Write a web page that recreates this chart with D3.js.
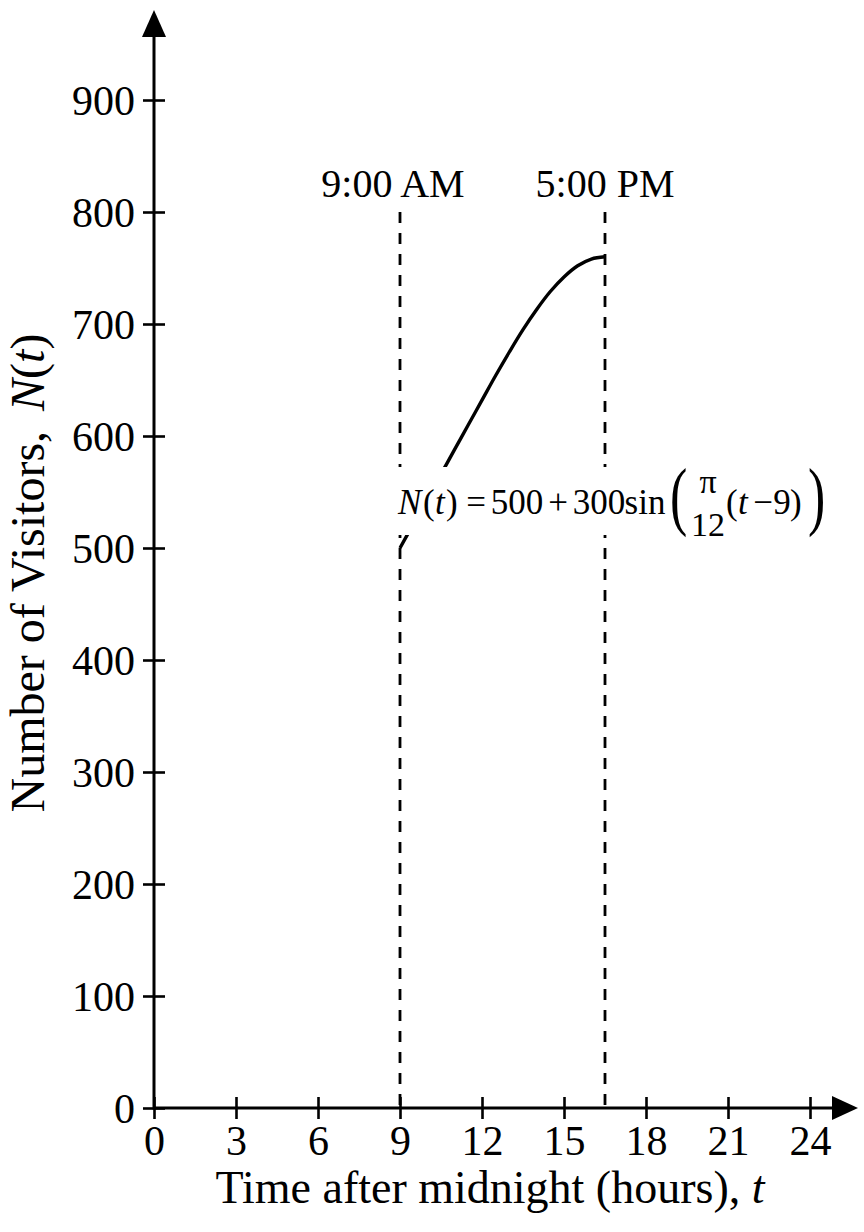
<!DOCTYPE html>
<html>
<head>
<meta charset="utf-8">
<script src="https://cdn.jsdelivr.net/npm/d3@7/dist/d3.min.js"></script>
<style>
  html, body { margin: 0; padding: 0; background: #fff; }
  svg { display: block; }
  text { font-family: "Liberation Serif", "Times New Roman", serif; fill: #000; }
</style>
</head>
<body>
<svg id="chart" width="864" height="1232"></svg>
<script>
// ---- data ----
const xTicks = [0, 3, 6, 9, 12, 15, 18, 21, 24];
const yTicks = [0, 100, 200, 300, 400, 500, 600, 700, 800, 900];
const curveT = [9, 9.5, 10, 10.5, 11, 11.5, 12, 12.5, 13, 13.5, 14, 14.5, 15, 15.5, 16, 16.5];
const curveN = [500, 522, 544, 566, 588, 610, 632, 654, 675, 695, 713, 729, 742, 752, 758, 760];
const markerT = [9, 16.5];
const markerLabels = ["9:00 AM", "5:00 PM"];
const markerTop = 800;

const svg = d3.select("#chart");
const x = d3.scaleLinear().domain([0, 24]).range([154, 810]);
const y = d3.scaleLinear().domain([0, 900]).range([1108, 100]);
const FONT = 42;

// dashed marker lines
svg.selectAll("line.marker").data(markerT).enter().append("line")
  .attr("class", "marker")
  .attr("x1", d => x(d)).attr("x2", d => x(d))
  .attr("y1", y(markerTop)).attr("y2", y(0))
  .attr("stroke", "#000").attr("stroke-width", 2.8)
  .attr("stroke-dasharray", "11,10");

svg.selectAll("text.mlabel").data(markerLabels).enter().append("text")
  .attr("class", "mlabel")
  .attr("x", (d, i) => x(markerT[i]) + (i === 0 ? -7 : 0))
  .attr("y", 197)
  .attr("text-anchor", "middle")
  .attr("font-size", 40)
  .text(d => d);

// curve
const pts = curveT.map((t, i) => [t, curveN[i]]);
svg.append("path")
  .attr("d", d3.line().x(d => x(d[0])).y(d => y(d[1])).curve(d3.curveCatmullRom.alpha(0.5))(pts))
  .attr("fill", "none").attr("stroke", "#000").attr("stroke-width", 3.4);

// axes
const xAxis = d3.axisBottom(x).tickValues(xTicks).tickSizeInner(11).tickSizeOuter(0).tickPadding(10);
const gx = svg.append("g").attr("transform", `translate(0,${y(0)})`).call(xAxis);
const yAxis = d3.axisLeft(y).tickValues(yTicks).tickSizeInner(11).tickSizeOuter(0).tickPadding(8);
const gy = svg.append("g").attr("transform", `translate(${x(0)},0)`).call(yAxis);

[gx, gy].forEach(g => {
  g.select(".domain").remove();
  g.selectAll(".tick line").attr("stroke", "#000").attr("stroke-width", 2.6);
  g.selectAll(".tick text").attr("font-size", FONT)
    .attr("font-family", "'Liberation Serif', 'Times New Roman', serif").attr("fill", "#000");
});
// ticks cross the axes
gx.selectAll(".tick line").attr("y1", -11).attr("y2", 11);
gy.selectAll(".tick line").attr("x1", -11).attr("x2", 11);
gx.selectAll(".tick text").attr("y", 47).attr("dy", 0);
gy.selectAll(".tick text").attr("x", -19).attr("dy", "0.34em");

// axis lines with arrowheads
svg.append("line").attr("x1", x(0)).attr("x2", 836).attr("y1", y(0)).attr("y2", y(0))
  .attr("stroke", "#000").attr("stroke-width", 3);
svg.append("path").attr("d", `M858,${y(0)} L832,${y(0) - 12} L832,${y(0) + 12} Z`).attr("fill", "#000");
svg.append("line").attr("x1", x(0)).attr("x2", x(0)).attr("y1", y(0) + 1.5).attr("y2", 34)
  .attr("stroke", "#000").attr("stroke-width", 3);
svg.append("path").attr("d", `M${x(0)},10 L${x(0) - 12},37 L${x(0) + 12},37 Z`).attr("fill", "#000");

// axis titles
const xt = svg.append("text").attr("x", 490).attr("y", 1203).attr("text-anchor", "middle").attr("font-size", 46);
xt.append("tspan").text("Time after midnight (hours), ");
xt.append("tspan").attr("font-style", "italic").text("t");

const yt = svg.append("text").attr("transform", "translate(44,573) rotate(-90)")
  .attr("text-anchor", "middle").attr("font-size", 48);
yt.append("tspan").text("Number of Visitors, ");
yt.append("tspan").attr("font-style", "italic").attr("dx", 8).text("N");
yt.append("tspan").text("(");
yt.append("tspan").attr("font-style", "italic").text("t");
yt.append("tspan").text(")");

// formula label with white background
const fg = svg.append("g");
fg.append("rect").attr("x", 396).attr("y", 467).attr("width", 436).attr("height", 68).attr("fill", "#fff");
const FS = 35, base = 514;
function piece(txt, px, opts = {}) {
  const t = fg.append("text").attr("x", px).attr("y", opts.y || base)
    .attr("font-size", opts.size || FS).text(txt);
  if (opts.italic) t.attr("font-style", "italic");
  if (opts.anchor) t.attr("text-anchor", opts.anchor);
  return t;
}
piece("N", 398, {italic: true});
piece("(", 423);
piece("t", 435, {italic: true});
piece(")", 446);
piece("=", 476, {anchor: "middle"});
piece("500", 517, {anchor: "middle"});
piece("+", 558, {anchor: "middle"});
piece("300", 599, {anchor: "middle"});
piece("sin", 645, {anchor: "middle"});
fg.append("text").attr("transform", "translate(670,521) scale(0.72,1.05)").attr("font-size", 72).text("(");
piece("π", 708, {anchor: "middle", y: 493, size: 34});
piece("12", 708, {anchor: "middle", y: 536, size: 34});
piece("(", 726);
piece("t", 738, {italic: true});
piece("−", 763, {anchor: "middle"});
piece("9", 782, {anchor: "middle"});
piece(")", 790);
fg.append("text").attr("transform", "translate(808,521) scale(0.72,1.05)").attr("font-size", 72).text(")");
</script>
</body>
</html>
